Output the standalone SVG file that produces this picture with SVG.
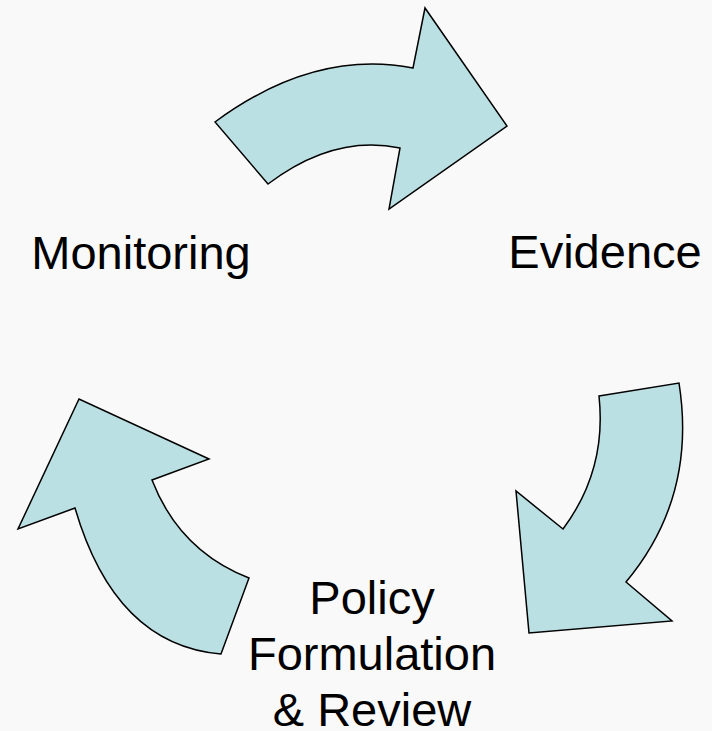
<svg xmlns="http://www.w3.org/2000/svg" width="712" height="731" viewBox="0 0 712 731">
<style>
.arrow{fill:#bbe0e3;stroke:#000;stroke-width:1.5;stroke-linejoin:miter}
.lbl{font-family:"Liberation Sans",Arial,sans-serif;font-size:47px;fill:#000;text-anchor:middle}
</style>
<rect x="0" y="0" width="712" height="731" fill="#f9f9f9"/>
<g id="connectors">
<path id="arrow-top" class="arrow" d="M215,122 Q314,49 413,68 L425,8 L507,126 L389,209 L400,148 Q334,134 268,184 Z"/>
<path id="arrow-right" class="arrow" d="M599,396 L679,383 Q697,497 626,582 L672,621 L529,633 L516,491 L563,529 Q607,470 599,396 Z"/>
<path id="arrow-left" class="arrow" d="M221,654 Q115,645 75,508 L18,529 L79,399 L209,459 L152,480 Q179.5,551 249,578 Z"/>
</g>
<g id="node-monitoring"><text class="lbl" x="141" y="269">Monitoring</text></g>
<g id="node-evidence"><text class="lbl" x="605" y="268">Evidence</text></g>
<g id="node-policy"><text class="lbl" x="372" y="614">Policy</text><text class="lbl" x="372" y="670">Formulation</text><text class="lbl" x="372" y="726">&amp; Review</text></g>
</svg>
